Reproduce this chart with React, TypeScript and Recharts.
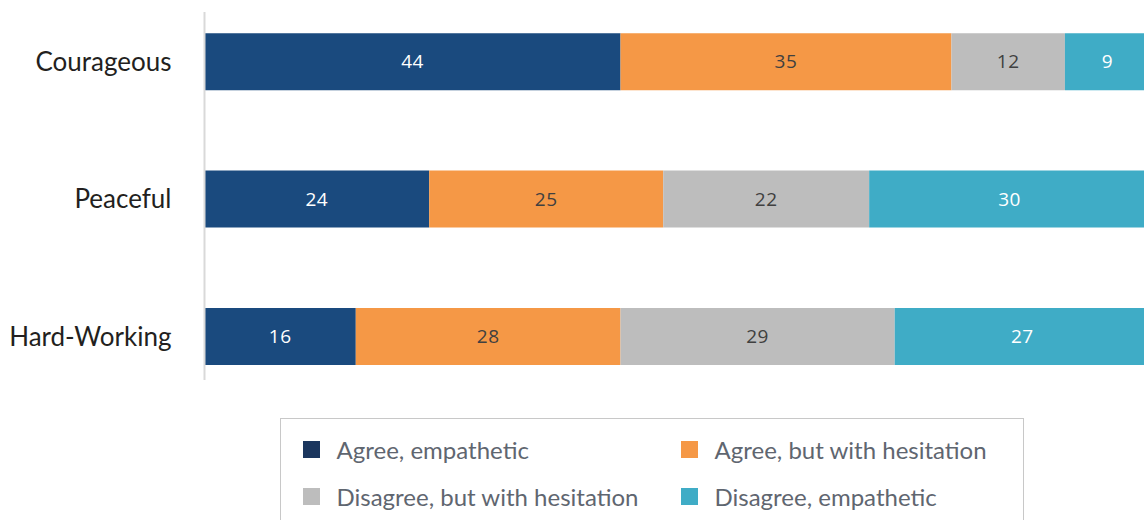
import { BarChart, Bar, XAxis, YAxis, LabelList, Legend } from 'recharts';

const categories = ['Courageous', 'Peaceful', 'Hard-Working'];
const agreeEmpathetic = [44, 24, 16];
const agreeHesitation = [35, 25, 28];
const disagreeHesitation = [12, 22, 29];
const disagreeEmpathetic = [9, 30, 27];

const data = categories.map((name, i) => ({
  name,
  agreeEmp: agreeEmpathetic[i],
  agreeHes: agreeHesitation[i],
  disagreeHes: disagreeHesitation[i],
  disagreeEmp: disagreeEmpathetic[i],
}));

const SERIES_ORDER = ['agreeEmp', 'agreeHes', 'disagreeHes', 'disagreeEmp'];

const COLORS = {
  agreeEmp: '#1a4a7e',
  agreeHes: '#f59846',
  disagreeHes: '#bdbdbd',
  disagreeEmp: '#3facc6',
};

// legend swatch for the first series is a touch darker than the bar
const LEGEND_COLORS: Record<string, string> = {
  agreeEmp: '#1b365e',
  agreeHes: '#f59846',
  disagreeHes: '#bdbdbd',
  disagreeEmp: '#3facc6',
};

const FONT = 'Lato, "Noto Sans", sans-serif';
const LABEL_FONT = '"Open Sans", sans-serif';

function LegendBox(props: any) {
  const payload = [...(props.payload || [])].sort(
    (a: any, b: any) => SERIES_ORDER.indexOf(a.dataKey) - SERIES_ORDER.indexOf(b.dataKey)
  );
  return (
    <div
      style={{
        boxSizing: 'border-box',
        width: 744,
        height: 130,
        border: '1.5px solid #c8c8c8',
        position: 'relative',
        fontFamily: FONT,
      }}
    >
      {payload.map((p: any, i: number) => {
        const col = i % 2;
        const row = Math.floor(i / 2);
        return (
          <div
            key={p.value}
            style={{
              position: 'absolute',
              left: 21.5 + col * 378,
              top: 21.5 + row * 47,
              display: 'flex',
              alignItems: 'center',
              height: 17,
            }}
          >
            <div
              style={{
                width: 17,
                height: 17,
                background: LEGEND_COLORS[p.dataKey] || p.color,
                marginRight: 17,
              }}
            />
            <span style={{ fontSize: 24, color: '#5f6670', whiteSpace: 'nowrap', lineHeight: '17px' }}>
              {p.value}
            </span>
          </div>
        );
      })}
    </div>
  );
}

export default function App() {
  return (
    <div
      style={{
        position: 'absolute',
        left: 0,
        top: 0,
        width: 1144,
        height: 520,
        overflow: 'hidden',
        background: '#fff',
      }}
    >
      <BarChart
        width={1150}
        height={520}
        data={data}
        layout="vertical"
        stackOffset="expand"
        margin={{ top: 12, right: 0, bottom: 140, left: 0 }}
      >
        <XAxis type="number" hide domain={[0, 1]} />
        <YAxis
          type="category"
          dataKey="name"
          width={204.5}
          tickSize={0}
          tickMargin={33}
          tickLine={false}
          axisLine={{ stroke: '#d9d9d9', strokeWidth: 2 }}
          padding={{ top: -18.75, bottom: -25.25 }}
          tick={{ fill: '#231f20', fontSize: 26, fontFamily: FONT }}
        />
        <Legend
          layout="horizontal"
          verticalAlign="middle"
          align="center"
          wrapperStyle={{ left: 280, top: 418, width: 744 }}
          content={<LegendBox />}
        />
        <Bar dataKey="agreeEmp" name="Agree, empathetic" stackId="a" fill={COLORS.agreeEmp} barSize={57} isAnimationActive={false}>
          <LabelList dataKey="agreeEmp" position="center" fill="#ffffff" fontSize={19} fontFamily={LABEL_FONT} letterSpacing={0.5} />
        </Bar>
        <Bar dataKey="agreeHes" name="Agree, but with hesitation" stackId="a" fill={COLORS.agreeHes} barSize={57} isAnimationActive={false}>
          <LabelList dataKey="agreeHes" position="center" fill="#404040" fontSize={19} fontFamily={LABEL_FONT} letterSpacing={0.5} />
        </Bar>
        <Bar dataKey="disagreeHes" name="Disagree, but with hesitation" stackId="a" fill={COLORS.disagreeHes} barSize={57} isAnimationActive={false}>
          <LabelList dataKey="disagreeHes" position="center" fill="#404040" fontSize={19} fontFamily={LABEL_FONT} letterSpacing={0.5} />
        </Bar>
        <Bar dataKey="disagreeEmp" name="Disagree, empathetic" stackId="a" fill={COLORS.disagreeEmp} barSize={57} isAnimationActive={false}>
          <LabelList dataKey="disagreeEmp" position="center" fill="#ffffff" fontSize={19} fontFamily={LABEL_FONT} letterSpacing={0.5} />
        </Bar>
      </BarChart>
    </div>
  );
}
